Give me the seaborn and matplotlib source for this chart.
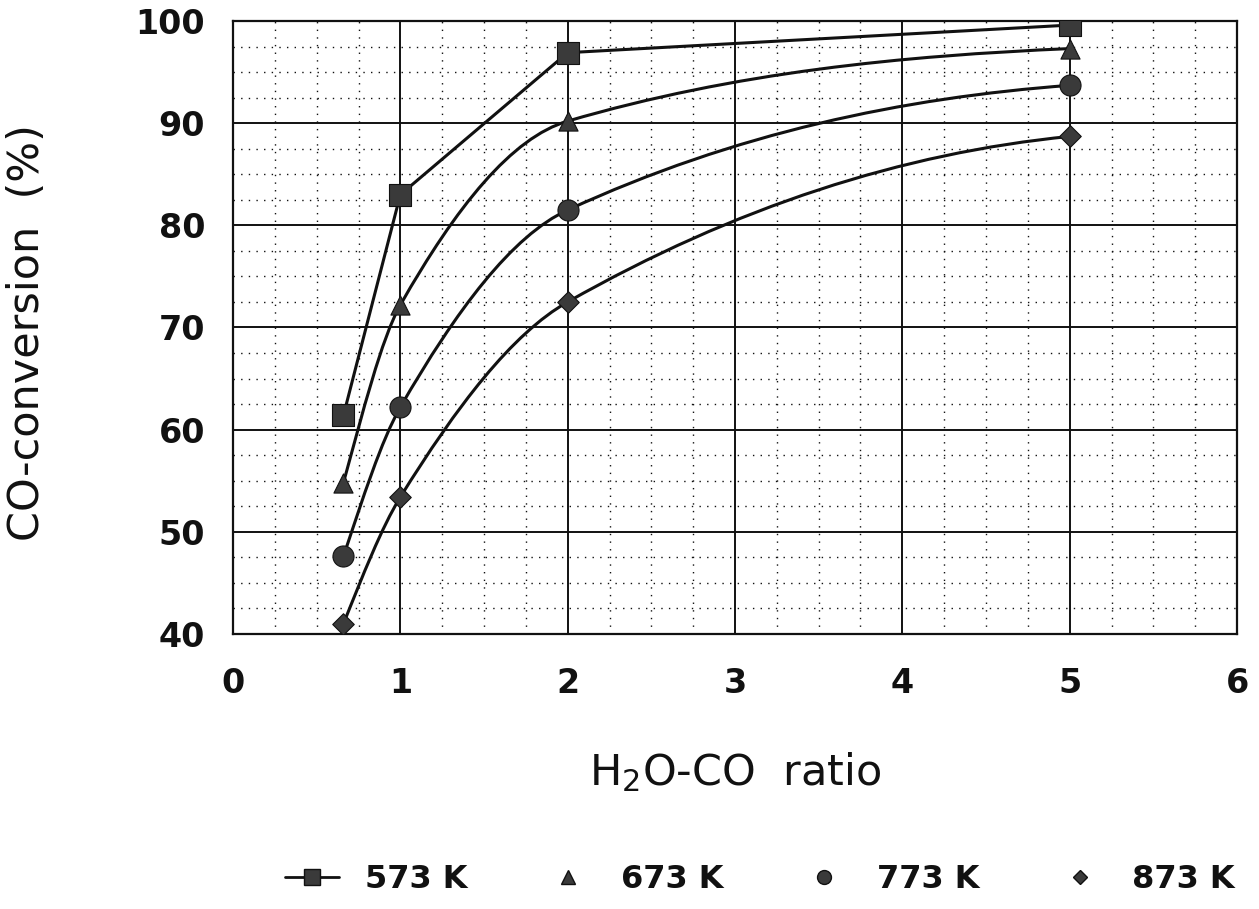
import numpy as np
import pandas as pd
import matplotlib
matplotlib.use("Agg")
import matplotlib.pyplot as plt
import seaborn as sns
from matplotlib.path import Path
from matplotlib.patches import PathPatch
from matplotlib.lines import Line2D
from matplotlib.ticker import MultipleLocator

# ---- data ----
ratio = [0.66, 1, 2, 5]
conv_573 = [61.4, 83.0, 96.9, 99.6]
conv_673 = [54.8, 72.2, 90.2, 97.3]
conv_773 = [47.6, 62.2, 81.5, 93.7]
conv_873 = [41.0, 53.4, 72.5, 88.7]
series_labels = ["573 K", "673 K", "773 K", "873 K"]
x_ticks = [0, 1, 2, 3, 4, 5, 6]
y_ticks = [40, 50, 60, 70, 80, 90, 100]

sns.set_theme(style="white")
plt.rcParams['font.family'] = ['DejaVu Sans']

fig = plt.figure(figsize=(12.59, 9.09), dpi=100)
ax = fig.add_axes([233/1259, 1-634/909, (1237-233)/1259, (634-21)/909])

ink = "#111111"
mfill = "#3a3a3a"

df = pd.DataFrame({"ratio": ratio * 4,
                   "conv": conv_573 + conv_673 + conv_773 + conv_873,
                   "T": sum([[s] * len(ratio) for s in series_labels], [])})

markers = {"573 K": "s", "673 K": "^", "773 K": "o", "873 K": "D"}
msizes = {"573 K": 230, "673 K": 190, "773 K": 230, "873 K": 120}


def pchip_path(x, y):
    x = np.asarray(x, float); y = np.asarray(y, float)
    h = np.diff(x); d = np.diff(y) / h
    n = len(x)
    m = np.zeros(n)
    for k in range(1, n - 1):
        if d[k-1] * d[k] > 0:
            w1 = 2*h[k] + h[k-1]; w2 = h[k] + 2*h[k-1]
            m[k] = (w1 + w2) / (w1/d[k-1] + w2/d[k])
    def endslope(h0, h1, d0, d1):
        s = ((2*h0 + h1)*d0 - h0*d1) / (h0 + h1)
        if np.sign(s) != np.sign(d0):
            s = 0.3 * d0
        elif np.sign(d0) != np.sign(d1) and abs(s) > abs(3*d0):
            s = 3*d0
        return s
    m[0] = endslope(h[0], h[1], d[0], d[1])
    m[-1] = endslope(h[-1], h[-2], d[-1], d[-2])
    verts = [(x[0], y[0])]; codes = [Path.MOVETO]
    for k in range(n - 1):
        verts += [(x[k] + h[k]/3, y[k] + m[k]*h[k]/3),
                  (x[k+1] - h[k]/3, y[k+1] - m[k+1]*h[k]/3),
                  (x[k+1], y[k+1])]
        codes += [Path.CURVE4] * 3
    return Path(verts, codes)


# 573 K: straight segments
sns.lineplot(x=ratio, y=conv_573, ax=ax, color=ink, lw=2.2, zorder=3, sort=False)
# others: smooth curves
for vals in [conv_673, conv_773, conv_873]:
    ax.add_patch(PathPatch(pchip_path(ratio, vals), facecolor="none",
                           edgecolor=ink, lw=2.2, zorder=3))

for s in series_labels:
    sub = df[df["T"] == s]
    sns.scatterplot(data=sub, x="ratio", y="conv", ax=ax, marker=markers[s],
                    s=msizes[s], color=mfill, edgecolor=ink, linewidth=0.8,
                    zorder=4, legend=False)

ax.set_xlim(0, 6)
ax.set_ylim(40, 100)
ax.set_xticks(x_ticks)
ax.set_yticks(y_ticks)
ax.xaxis.set_minor_locator(MultipleLocator(0.25))
ax.yaxis.set_minor_locator(MultipleLocator(2.5))
ax.grid(which="major", color=ink, lw=1.4, ls="-", zorder=1)
ax.grid(which="minor", color=ink, lw=1.0, ls=(0, (1.0, 4.5)), zorder=1)
ax.set_axisbelow(True)
for sp in ax.spines.values():
    sp.set_color(ink); sp.set_linewidth(1.6); sp.set_visible(True)
ax.tick_params(which="both", length=0)
ax.tick_params(axis="y", pad=20, labelsize=24, labelcolor=ink)
ax.tick_params(axis="x", pad=24, labelsize=24, labelcolor=ink)
for lab in ax.get_xticklabels() + ax.get_yticklabels():
    lab.set_fontweight("bold")
ax.set_xlabel(""); ax.set_ylabel("")

fig.text(27/1259, 1-333/909, "CO-conversion  (%)", rotation=90,
         ha="center", va="center", fontsize=31, color=ink)
fig.text(735/1259, 1-772/909, "H$_2$O-CO  ratio", ha="center", va="center",
         fontsize=31, color=ink)

handles = [
    Line2D([], [], color=ink, lw=2, marker="s", markersize=11, markerfacecolor=mfill),
    Line2D([], [], color=ink, lw=0, marker="^", markersize=10, markerfacecolor=mfill),
    Line2D([], [], color=ink, lw=0, marker="o", markersize=10, markerfacecolor=mfill),
    Line2D([], [], color=ink, lw=0, marker="D", markersize=7, markerfacecolor=mfill),
]
leg = fig.legend(handles, series_labels, loc="center", ncol=4,
                 bbox_to_anchor=(760/1259, 1-880/909), frameon=False,
                 handlelength=1.7, columnspacing=2.3, handletextpad=0.8,
                 prop={"size": 23, "weight": "bold"})
for t in leg.get_texts():
    t.set_color(ink)

fig.savefig("out.png", dpi=100, facecolor="white")
